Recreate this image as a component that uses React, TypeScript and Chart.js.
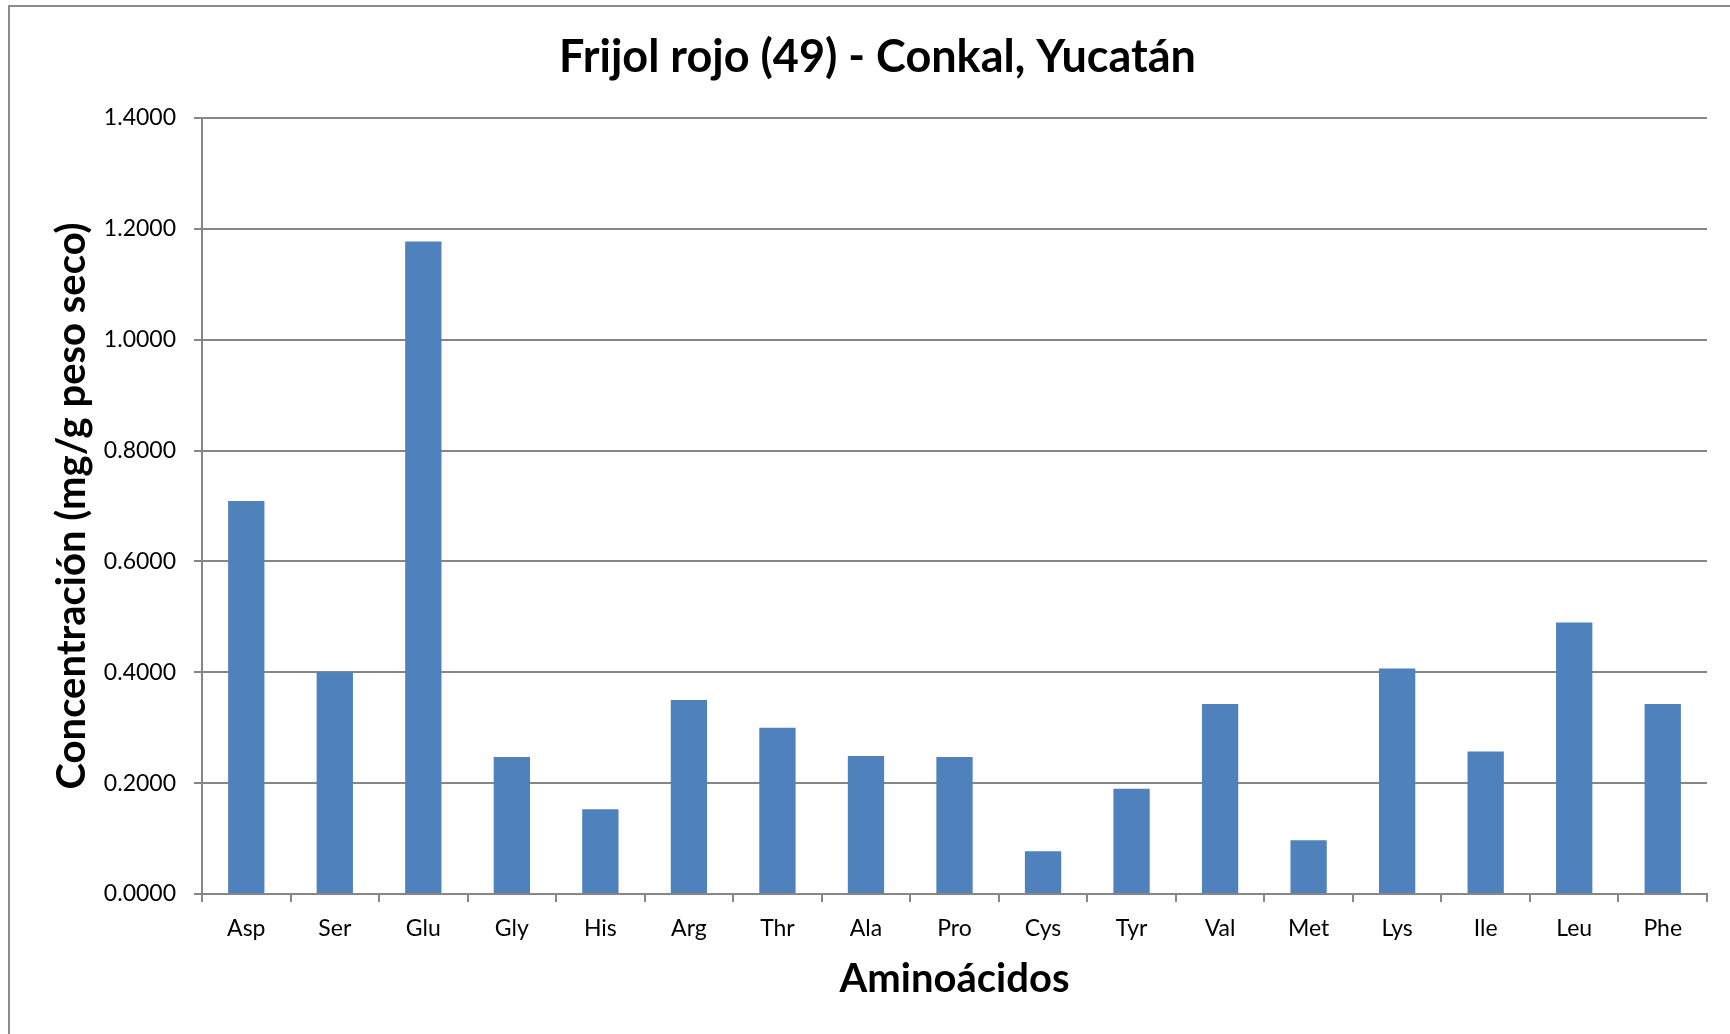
import React, { useEffect, useRef } from "react";
import { Chart, registerables } from "chart.js";

Chart.register(...registerables);

const categories = ["Asp", "Ser", "Glu", "Gly", "His", "Arg", "Thr", "Ala", "Pro", "Cys", "Tyr", "Val", "Met", "Lys", "Ile", "Leu", "Phe"];
const concentration = [0.709, 0.400, 1.177, 0.247, 0.153, 0.350, 0.300, 0.249, 0.247, 0.077, 0.190, 0.343, 0.097, 0.407, 0.257, 0.490, 0.343];
const titleText = "Frijol rojo (49) - Conkal, Yucatán";
const yTitle = "Concentración (mg/g peso seco)";
const xTitle = "Aminoácidos";

const FONT = "Lato, 'Open Sans', sans-serif";

export default function App() {
  const ref = useRef<HTMLCanvasElement | null>(null);
  useEffect(() => {
    document.body.style.margin = "0";
    const ctx = ref.current!;
    const chart = new Chart(ctx, {
      type: "bar",
      data: {
        labels: categories,
        datasets: [
          {
            data: concentration,
            backgroundColor: "#4F81BD",
            borderWidth: 0,
            barPercentage: 0.41,
            categoryPercentage: 1,
          },
        ],
      },
      options: {
        animation: false,
        responsive: false,
        maintainAspectRatio: false,
        layout: { padding: { left: 48, right: 23, top: 0, bottom: 0 } },
        plugins: {
          legend: { display: false },
          tooltip: { enabled: false },
          title: {
            display: true,
            text: titleText,
            color: "#000",
            font: { family: FONT, size: 45, weight: "bold" },
            padding: { top: 30, bottom: 34 },
          },
        },
        scales: {
          x: {
            grid: { display: true, drawOnChartArea: false, drawTicks: true, tickLength: 8, color: "#868686", lineWidth: 2 },
            border: { display: true, color: "#868686", width: 2 },
            ticks: { color: "#000", font: { family: FONT, size: 23 }, padding: 13, maxRotation: 0 },
            title: { display: true, text: xTitle, color: "#000", font: { family: FONT, size: 40, weight: "bold" }, padding: { top: 10, bottom: 31 } },
            afterFit: (s: any) => { s.height = 140; },
          },
          y: {
            min: 0,
            max: 1.4,
            grid: { color: "#868686", lineWidth: 2, tickLength: 8 },
            border: { display: true, color: "#868686", width: 2 },
            ticks: {
              stepSize: 0.2,
              color: "#000",
              font: { family: FONT, size: 23 },
              padding: 18,
              callback: (v: any) => Number(v).toFixed(4),
            },
            title: { display: true, text: yTitle, color: "#000", font: { family: FONT, size: 40, weight: "bold" }, padding: { top: 0, bottom: 0 } },
            afterFit: (s: any) => { s.width = 154; },
          },
        },
      },
    });
    return () => chart.destroy();
  }, []);
  return (
    <div style={{ position: "relative", width: 1730, height: 1034, overflow: "hidden", background: "#fff" }}>
      <div style={{ position: "absolute", left: 8, top: 5, width: 1800, height: 1200, border: "2px solid #8c8c8c", boxSizing: "border-box" }} />
      <canvas ref={ref} width={1730} height={1034} style={{ position: "absolute", left: 0, top: 0 }} />
    </div>
  );
}
